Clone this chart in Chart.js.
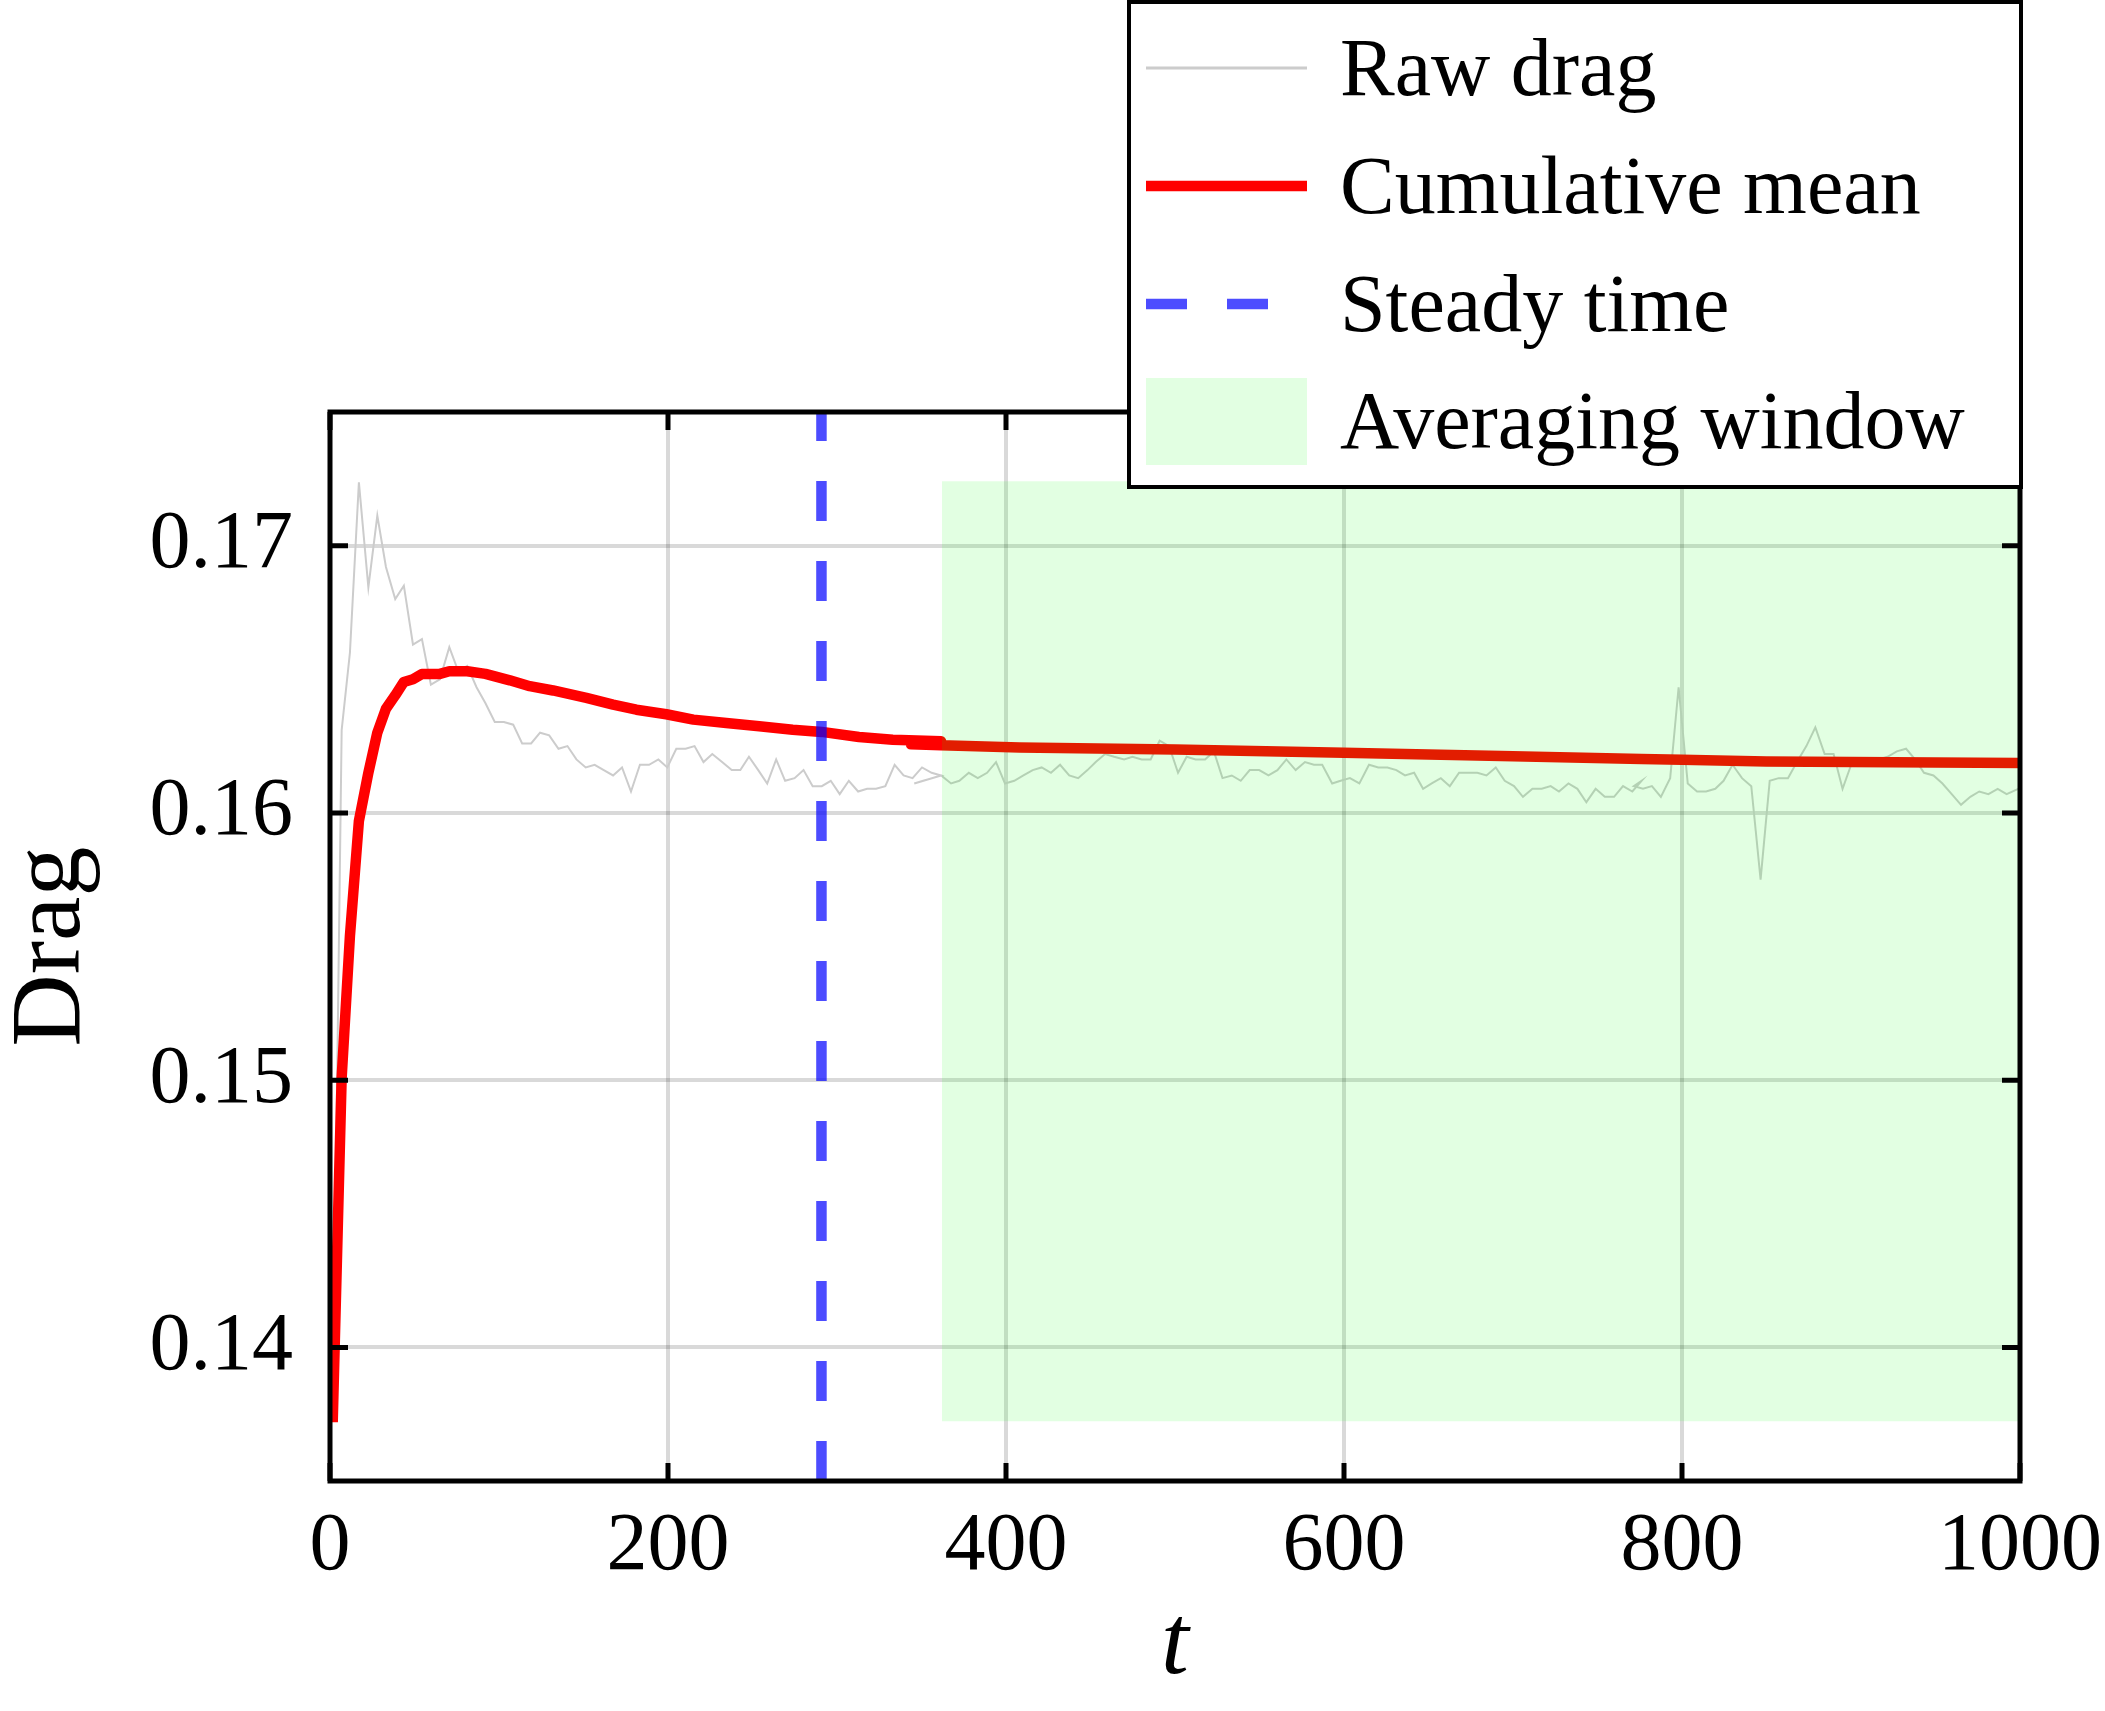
<!DOCTYPE html>
<html><head><meta charset="utf-8">
<script src="https://cdn.jsdelivr.net/npm/chart.js@4.4.1/dist/chart.umd.min.js"></script>
<style>html,body{margin:0;padding:0;background:#fff;}canvas{display:block;}</style>
</head><body>
<canvas id="c" width="2105" height="1711" style="width:2105px;height:1711px"></canvas>
<script>
// ---- data ----
const rawT = [
  1.6, 6.9, 11.8, 17.1, 22.7, 28.0, 33.1, 38.6, 43.7, 49.1,
  54.4, 59.7, 65.0, 70.6, 75.9, 81.2, 86.7, 92.0, 97.5, 102.9,
  108.4, 113.7, 119.0, 124.3, 129.7, 135.2, 140.5, 145.8, 151.3, 156.6,
  162.0, 167.5, 172.8, 178.1, 183.4, 188.8, 194.3, 199.6, 204.9, 210.4,
  215.7, 221.0, 226.2, 232.0, 237.7, 242.8, 247.9, 253.4, 258.7, 264.0,
  269.3, 274.9, 280.2, 285.6, 291.0, 296.3, 301.6, 307.0, 312.5, 317.8,
  323.1, 328.6, 334.1, 339.4, 344.7, 350.3, 356.0, 361.6,
  345.7, 351.0, 356.3, 361.6, 367.5, 372.4, 378.0, 383.3, 388.8, 394.1,
  399.4, 404.9, 410.3, 415.8, 421.1, 426.6, 432.0, 437.4, 442.7, 448.2,
  453.1, 458.6, 464.0, 469.9, 474.8, 480.3, 485.6, 490.9, 496.5, 501.8,
  506.9, 512.2, 517.8, 523.0, 528.1, 533.6, 538.9, 544.2, 549.8, 555.3,
  560.6, 565.9, 571.4, 576.9, 582.2, 587.1, 593.0, 598.0, 603.5, 609.1,
  614.8, 620.3, 625.7, 631.0, 636.1, 641.5, 646.8, 651.9, 657.3, 662.6,
  668.1, 673.6, 678.9, 684.3, 689.8, 695.1, 700.6, 705.9, 711.5, 717.0,
  722.3, 727.2, 732.8, 738.1, 743.4, 748.9, 754.3, 759.8, 765.1, 770.6, 776.1,
  771.5, 776.9, 782.2, 787.5, 793.0, 798.0, 803.4, 808.9, 814.2, 819.7,
  824.6, 829.9, 835.5, 841.0, 846.5, 851.9, 857.2, 862.7, 868.0, 873.6,
  878.9, 884.4, 889.7, 895.0, 900.1, 905.5, 910.8, 916.2, 921.6, 927.1,
  932.6, 937.9, 943.2, 948.8, 954.1, 959.6, 965.1, 970.6, 975.9, 981.3,
  986.8, 992.1, 999.0
];
const rawDrag = [
  0.13724, 0.1631, 0.1660, 0.17237, 0.16844, 0.17112, 0.1692, 0.1680, 0.1685, 0.1663,
  0.1665, 0.1648, 0.1650, 0.1662, 0.1653, 0.1655, 0.1647, 0.1641, 0.1634, 0.1634,
  0.1633, 0.1626, 0.1626, 0.1630, 0.1629, 0.1624, 0.1625, 0.1620, 0.1617, 0.1618,
  0.1616, 0.1614, 0.1617, 0.1608, 0.1618, 0.1618, 0.1620, 0.1617, 0.1624, 0.1624,
  0.1625, 0.1619, 0.1622, 0.1619, 0.1616, 0.1616, 0.1621, 0.1616, 0.1611, 0.1620,
  0.1612, 0.1613, 0.1616, 0.1610, 0.1610, 0.1612, 0.1607, 0.1612, 0.1608, 0.1609,
  0.1609, 0.1610, 0.1618, 0.1614, 0.1613, 0.1617, 0.1615, 0.1614,
  0.1611, 0.1612, 0.1613, 0.1614, 0.1611, 0.1612, 0.1615, 0.1613, 0.1615, 0.1619,
  0.1611, 0.1612, 0.1614, 0.1616, 0.1617, 0.1615, 0.1618, 0.1614, 0.1613, 0.1616,
  0.1619, 0.1622, 0.1621, 0.1620, 0.1621, 0.1620, 0.1620, 0.1627, 0.1625, 0.1615,
  0.1621, 0.1620, 0.1620, 0.1623, 0.1613, 0.1614, 0.1612, 0.1616, 0.1616, 0.1614,
  0.1616, 0.1620, 0.1616, 0.1619, 0.1618, 0.1618, 0.1611, 0.1612, 0.1613, 0.1611,
  0.1618, 0.1617, 0.1617, 0.1616, 0.1614, 0.1615, 0.1609, 0.1611, 0.1613, 0.1610,
  0.1615, 0.1615, 0.1615, 0.1614, 0.1617, 0.1612, 0.1610, 0.1606, 0.1609, 0.1609,
  0.1610, 0.1608, 0.1611, 0.1609, 0.1604, 0.1609, 0.1606, 0.1606, 0.1610, 0.1608, 0.1612,
  0.1610, 0.1609, 0.1610, 0.1606, 0.1613, 0.1647, 0.1611, 0.1608, 0.1608, 0.1609,
  0.1612, 0.1618, 0.1613, 0.1610, 0.1575, 0.1612, 0.1613, 0.1613, 0.1619, 0.1625,
  0.1632, 0.1622, 0.1622, 0.1609, 0.1618, 0.1619, 0.1620, 0.1620, 0.1621, 0.1623,
  0.1624, 0.1620, 0.1615, 0.1614, 0.1611, 0.1607, 0.1603, 0.1606, 0.1608, 0.1607,
  0.1609, 0.1607, 0.1609
];
const meanT = [
  1.6, 6.9, 11.8, 17.1, 22.7, 28.0, 33.1, 38.6, 43.7, 49.1,
  54.4, 59.7, 65.0, 70.6, 81.2, 92.0, 106.4, 118.2, 132.0, 151.7,
  167.5, 181.3, 199.0, 215.0, 234.5, 254.0, 273.8, 291.0, 313.0, 333.0, 361.6,
  343.8, 361.6, 408.0, 500.0, 600.0, 700.0, 776.0, 800.0, 850.0, 900.0, 1000.0
];
const meanDrag = [
  0.1372, 0.1501, 0.1554, 0.1597, 0.1615, 0.1630, 0.1639, 0.1644, 0.1649, 0.1650,
  0.1652, 0.1652, 0.1652, 0.1653, 0.1653, 0.1652, 0.16496, 0.16474, 0.16458, 0.1643,
  0.16405, 0.16386, 0.16369, 0.16349, 0.16336, 0.16324, 0.16311, 0.16303, 0.16284, 0.16274, 0.16268,
  0.16257, 0.16253, 0.16245, 0.16237, 0.16225, 0.16212, 0.16202, 0.16199, 0.16192, 0.16190, 0.16187
];
const steadyTime = 290.8;
const windowStart = 362.1;
const windowEnd = 1000;
const windowLow = 0.13724;
const windowHigh = 0.17241;
const xRange = [0, 1000];
const yRange = [0.135, 0.175];
const xTickValues = [0, 200, 400, 600, 800, 1000];
const yTickValues = [0.14, 0.15, 0.16, 0.17];
const legendLabels = ['Raw drag', 'Cumulative mean', 'Steady time', 'Averaging window'];

// ---- styles ----
const FONT = 'Liberation Serif';
const RAW_COLOR = '#cccccc';
const MEAN_COLOR = '#ff0000';
const STEADY_COLOR = 'rgba(0,0,255,0.7)';
const WINDOW_COLOR = 'rgba(0,255,0,0.115)';

const framePlugin = {
  id: 'framePlugin',
  afterDraw(chart) {
    const {ctx, chartArea: a, scales: {x, y}} = chart;
    ctx.save();
    ctx.strokeStyle = '#000';
    ctx.lineWidth = 5;
    const L = 18;
    ctx.beginPath();
    xTickValues.forEach(v => {
      const px = x.getPixelForValue(v);
      ctx.moveTo(px, a.bottom); ctx.lineTo(px, a.bottom - L);
      ctx.moveTo(px, a.top); ctx.lineTo(px, a.top + L);
    });
    yTickValues.forEach(v => {
      const py = y.getPixelForValue(v);
      ctx.moveTo(a.left, py); ctx.lineTo(a.left + L, py);
      ctx.moveTo(a.right, py); ctx.lineTo(a.right - L, py);
    });
    ctx.stroke();
    ctx.lineJoin = 'miter';
    ctx.strokeRect(a.left, a.top, a.right - a.left, a.bottom - a.top);

    // legend
    const bx = 1129, by = 2, bw = 892, bh = 485;
    ctx.fillStyle = '#fff';
    ctx.fillRect(bx, by, bw, bh);
    ctx.lineWidth = 4;
    ctx.strokeStyle = '#000';
    ctx.strokeRect(bx, by, bw, bh);
    const hx0 = 1146, hx1 = 1307, tx = 1340;
    const rows = [68, 186, 304, 421];
    // raw
    ctx.lineCap = 'butt';
    ctx.strokeStyle = RAW_COLOR; ctx.lineWidth = 3;
    ctx.beginPath(); ctx.moveTo(hx0, rows[0]); ctx.lineTo(hx1, rows[0]); ctx.stroke();
    // mean
    ctx.strokeStyle = MEAN_COLOR; ctx.lineWidth = 10.5;
    ctx.beginPath(); ctx.moveTo(hx0, rows[1]); ctx.lineTo(hx1, rows[1]); ctx.stroke();
    // steady
    ctx.strokeStyle = STEADY_COLOR; ctx.lineWidth = 10.5; ctx.setLineDash([41, 40]);
    ctx.beginPath(); ctx.moveTo(hx0, rows[2]); ctx.lineTo(hx1, rows[2]); ctx.stroke();
    ctx.setLineDash([]);
    // window
    ctx.fillStyle = WINDOW_COLOR;
    ctx.fillRect(hx0, rows[3] - 43, hx1 - hx0, 87);
    ctx.fillStyle = '#000';
    ctx.font = '82px "' + FONT + '"';
    ctx.textAlign = 'left';
    ctx.textBaseline = 'alphabetic';
    legendLabels.forEach((s, i) => ctx.fillText(s, tx, rows[i] + 27));
    ctx.restore();
  }
};

const pts = (xs, ys) => xs.map((t, i) => ({x: t, y: ys[i]}));

new Chart(document.getElementById('c'), {
  type: 'scatter',
  data: {
    datasets: [
      {label: legendLabels[0], data: pts(rawT, rawDrag), showLine: true, borderColor: RAW_COLOR,
       borderWidth: 2, pointRadius: 0, fill: false, order: 4},
      {label: legendLabels[1], data: pts(meanT, meanDrag), showLine: true, borderColor: MEAN_COLOR,
       borderWidth: 10.5, pointRadius: 0, fill: false, order: 3, borderJoinStyle: 'round'},
      {label: legendLabels[3], data: [{x: windowStart, y: windowHigh}, {x: windowEnd, y: windowHigh}],
       showLine: true, borderWidth: 0, borderColor: 'rgba(0,0,0,0)', backgroundColor: WINDOW_COLOR,
       pointRadius: 0, fill: {value: windowLow}, order: 2},
      {label: legendLabels[2], data: [{x: steadyTime, y: yRange[0]}, {x: steadyTime, y: yRange[1]}],
       showLine: true, borderColor: STEADY_COLOR, borderWidth: 10.5, borderDash: [40, 40],
       pointRadius: 0, fill: false, order: 1}
    ]
  },
  options: {
    responsive: false,
    devicePixelRatio: 1,
    animation: false,
    events: [],
    layout: {padding: {left: 0, top: 412, right: 85, bottom: 0}},
    plugins: {legend: {display: false}, tooltip: {enabled: false}},
    scales: {
      x: {
        type: 'linear', min: xRange[0], max: xRange[1],
        afterBuildTicks: s => { s.ticks = xTickValues.map(v => ({value: v})); },
        afterFit: s => { s.height = 230; s.paddingLeft = 0; s.paddingRight = 0; },
        grid: {color: 'rgba(0,0,0,0.15)', lineWidth: 4, drawTicks: false, tickLength: 0},
        border: {display: false},
        ticks: {font: {family: FONT, size: 82}, color: '#000', padding: 17, maxRotation: 0,
                autoSkip: false, callback: v => String(v)},
        title: {display: true, text: 't', color: '#000',
                font: {family: FONT, size: 100, style: 'italic', lineHeight: 1},
                padding: {top: 0, bottom: 14}}
      },
      y: {
        type: 'linear', min: yRange[0], max: yRange[1],
        afterBuildTicks: s => { s.ticks = yTickValues.map(v => ({value: v})); },
        afterFit: s => { s.width = 330; s.paddingTop = 0; s.paddingBottom = 0; },
        grid: {color: 'rgba(0,0,0,0.15)', lineWidth: 4, drawTicks: false, tickLength: 0},
        border: {display: false},
        ticks: {font: {family: FONT, size: 82}, color: '#000', padding: 37,
                autoSkip: false, callback: v => Number(v).toFixed(2)},
        title: {display: true, text: 'Drag', color: '#000',
                font: {family: FONT, size: 100, lineHeight: 1},
                padding: {top: 3, bottom: 0}}
      }
    }
  },
  plugins: [framePlugin]
});
</script>
</body></html>
